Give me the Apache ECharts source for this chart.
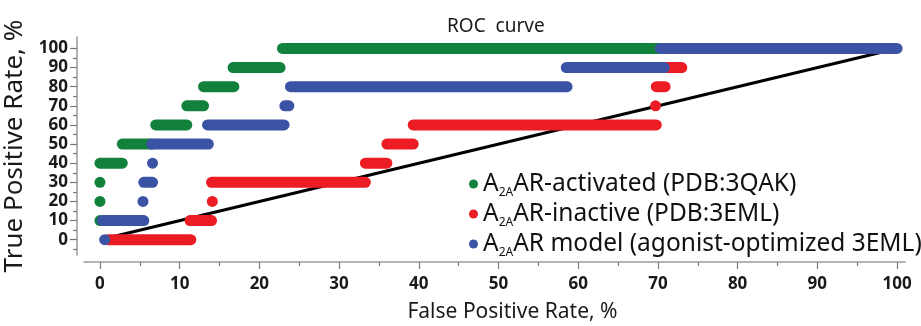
<!DOCTYPE html>
<html>
<head>
<meta charset="utf-8">
<script src="https://cdn.jsdelivr.net/npm/echarts@6/dist/echarts.min.js"></script>
<style>
  html, body { margin: 0; padding: 0; background: #fff; }
  #main { width: 921px; height: 326px; }
</style>
</head>
<body>
<div id="main"></div>
<script>
// each segment: [xStart, xEnd, tpr]
const activatedSegs = [
  [0, 0, 10], [0, 0, 20], [0, 0, 30], [0, 2.8, 40], [2.8, 6.5, 50],
  [7.0, 10.9, 60], [10.9, 13.0, 70], [13.0, 16.8, 80], [16.7, 22.6, 90],
  [22.9, 70.3, 100]
];
const inactiveSegs = [
  [1.0, 11.4, 0], [11.3, 14.0, 10], [14.1, 14.1, 20], [14.0, 33.3, 30],
  [33.3, 36.0, 40], [36.0, 39.3, 50], [39.3, 69.8, 60], [69.7, 69.7, 70],
  [69.8, 70.9, 80], [70.9, 73.0, 90]
];
const modelSegs = [
  [0.6, 0.6, 0], [0.3, 5.5, 10], [5.4, 5.4, 20], [5.5, 6.6, 30],
  [6.6, 6.6, 40], [6.5, 13.6, 50], [13.5, 23.1, 60], [23.2, 23.7, 70],
  [23.9, 58.6, 80], [58.5, 70.8, 90], [70.3, 100, 100]
];
const randomLine = [[0, 0], [100, 100]];
const majorTicks = [0, 10, 20, 30, 40, 50, 60, 70, 80, 90, 100];
const minorTicks = [-5, 5, 15, 25, 35, 45, 55, 65, 75, 85, 95];
const seriesNames = ['A2AAR-activated (PDB:3QAK)', 'A2AAR-inactive (PDB:3EML)', 'A2AAR model (agonist-optimized 3EML)'];
const colors = ['#11813c', '#ec1c24', '#3a53a4'];

const dom = document.getElementById('main');
const myChart = echarts.init(dom);

const barH = 11;
function renderSeg(params, api) {
  const p1 = api.coord([api.value(0), api.value(2)]);
  const p2 = api.coord([api.value(1), api.value(2)]);
  return {
    type: 'rect',
    shape: { x: p1[0] - barH / 2, y: p1[1] - barH / 2, width: p2[0] - p1[0] + barH, height: barH, r: barH / 2 },
    style: { fill: api.visual('color') }
  };
}

const axisFont = { fontFamily: 'Noto Sans', fontWeight: 'bold', fontSize: 17, color: '#1a1a1a' };

function makeAxis(isX, main) {
  return {
    type: 'value',
    min: isX ? -2 : -8,
    max: isX ? 101 : 106,
    offset: 7,
    position: isX ? 'bottom' : 'left',
    name: main ? (isX ? 'False Positive Rate, %' : 'True Positive Rate, %') : '',
    nameLocation: 'middle',
    nameGap: isX ? 40 : 42,
    nameTextStyle: isX
      ? { fontFamily: 'Noto Sans', fontSize: 21, color: '#1a1a1a', padding: [0, 0, 0, 36] }
      : { fontFamily: 'Noto Sans', fontSize: 26, color: '#1a1a1a' },
    splitLine: { show: false },
    axisLine: { show: main, onZero: false, lineStyle: { color: '#9a9a9a', width: 1.5 } },
    axisTick: {
      show: true,
      customValues: main ? majorTicks : minorTicks,
      length: main ? 7 : 4,
      lineStyle: { color: '#7a7a7a', width: 1.2 }
    },
    axisLabel: {
      show: main,
      customValues: majorTicks,
      margin: isX ? 14 : 9,
      ...axisFont
    }
  };
}

const option = {
  animation: false,
  title: {
    text: 'ROC  curve',
    left: 442,
    top: 12,
    textStyle: { fontFamily: 'Noto Sans', fontWeight: 'normal', fontSize: 19, color: '#1a1a1a' }
  },
  grid: { left: 84, right: 16, top: 37, bottom: 71, containLabel: false, outerBoundsMode: 'none' },
  xAxis: [makeAxis(true, true), makeAxis(true, false)],
  yAxis: [makeAxis(false, true), makeAxis(false, false)],
  legend: {
    data: seriesNames,
    orient: 'vertical',
    left: 464,
    top: 164,
    itemGap: 0,
    itemWidth: 9,
    itemHeight: 9,
    icon: 'circle',
    formatter: n => n.replace('A2AAR', 'A{s|2A}AR'),
    textStyle: {
      fontFamily: 'Noto Sans',
      fontSize: 24.5,
      lineHeight: 30,
      color: '#111',
      rich: {
        s: { fontFamily: 'Noto Sans', fontSize: 12, lineHeight: 30, verticalAlign: 'bottom', color: '#111' }
      }
    }
  },
  series: [
    {
      type: 'line',
      data: randomLine,
      symbol: 'none',
      lineStyle: { color: '#000', width: 3 },
      z: 1,
      silent: true
    },
    ...[activatedSegs, inactiveSegs, modelSegs].map((segs, i) => ({
      type: 'custom',
      name: seriesNames[i],
      renderItem: renderSeg,
      itemStyle: { color: colors[i] },
      encode: { x: [0, 1], y: 2 },
      data: segs,
      z: 2 + i
    }))
  ]
};
myChart.setOption(option, true);
</script>
</body>
</html>
